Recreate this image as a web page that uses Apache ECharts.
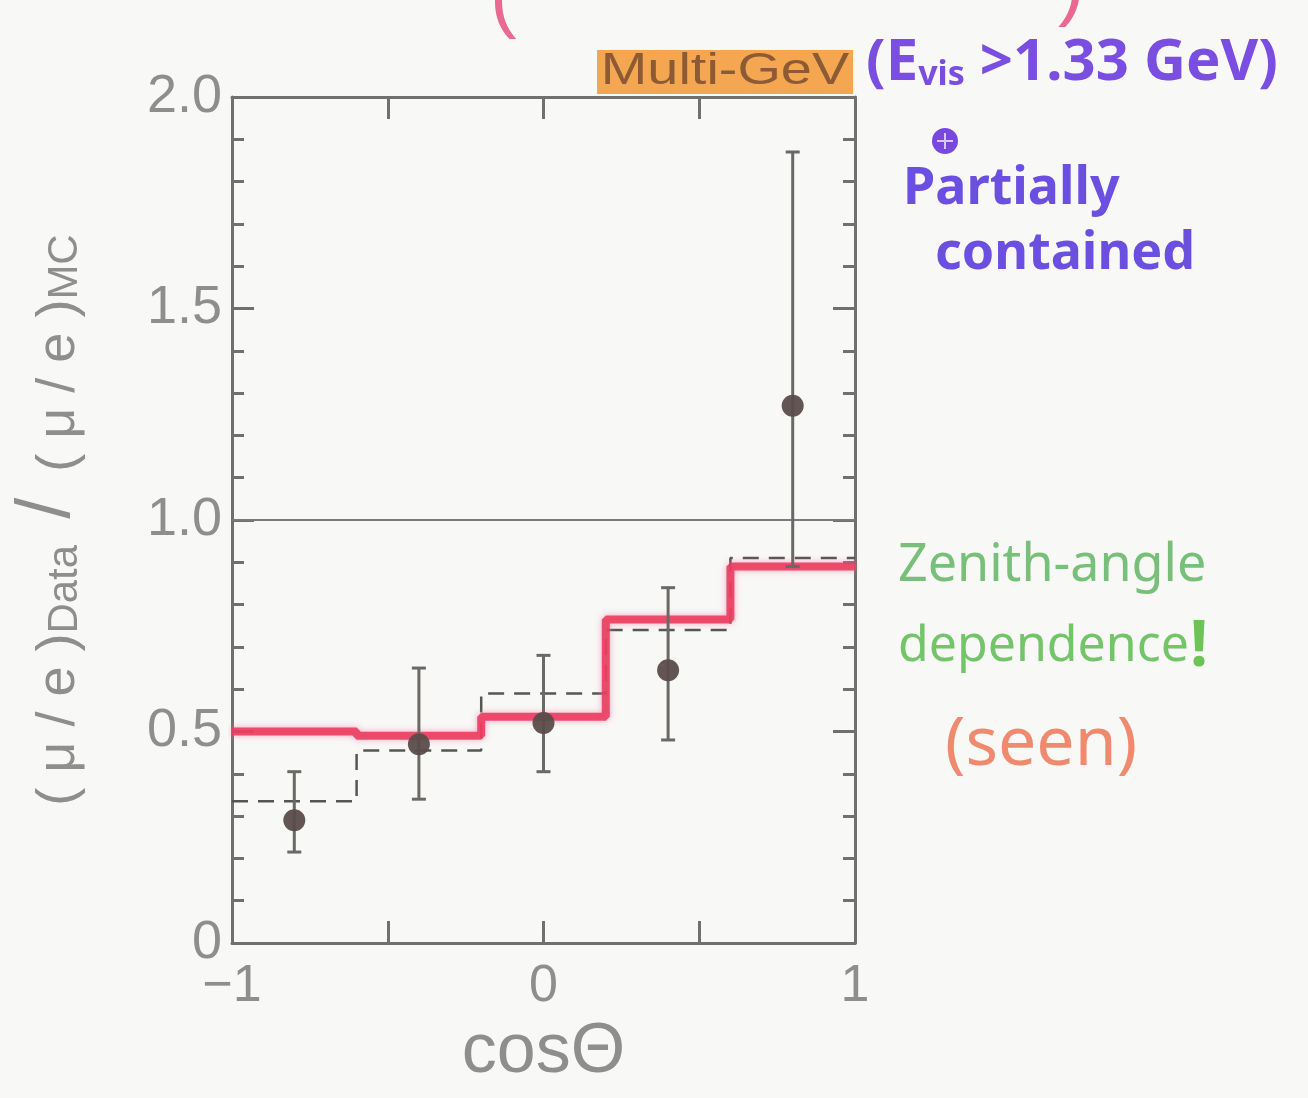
<!DOCTYPE html>
<html>
<head>
<meta charset="utf-8">
<title>Multi-GeV μ/e ratio vs cosΘ</title>
<script src="https://cdn.jsdelivr.net/npm/echarts@6/dist/echarts.min.js"></script>
<style>
  html, body { margin: 0; padding: 0; background: #f8f8f6; }
  #chart { width: 1308px; height: 1098px; }
</style>
</head>
<body>
<div id="chart"></div>
<script>
// Zenith-angle bins in cosΘ
const binEdges = [-1, -0.6, -0.2, 0.2, 0.6, 1];
const binCenters = [-0.8, -0.4, 0, 0.4, 0.8];

// Measured (μ/e)Data/(μ/e)MC with error range
const dataRatio = [0.29, 0.47, 0.52, 0.645, 1.27];
const errLow = [0.215, 0.34, 0.405, 0.48, 0.89];
const errHigh = [0.405, 0.65, 0.68, 0.84, 1.87];

// Expectation histograms: solid (red) and dashed
const oscRatio = [0.50, 0.49, 0.535, 0.765, 0.89];
const altRatio = [0.335, 0.455, 0.59, 0.74, 0.91];

// Reference level and axis tick labels
const unityLevel = 1.0;
const xTickLabels = { '-1': '−1', '0': '0', '1': '1' };
const yTickLabels = { '0': '0', '0.5': '0.5', '1': '1.0', '1.5': '1.5', '2': '2.0' };

// Turn per-bin values into step points (left edges + final right edge)
function stepPoints(values) {
  const pts = values.map((v, i) => [binEdges[i], v]);
  pts.push([binEdges[binEdges.length - 1], values[values.length - 1]]);
  return pts;
}

const axisGray = '#707070';
const labelGray = '#8e8e8e';
const labelFont = 'Liberation Sans, Helvetica, Arial, sans-serif';
const handFont = 'Noto Sans, sans-serif';

const chart = echarts.init(document.getElementById('chart'));

const baseX = {
  type: 'value', min: -1, max: 1, interval: 0.5,
  axisLine: { show: true, onZero: false, lineStyle: { color: axisGray, width: 3 } },
  axisTick: { show: true, inside: true, length: 22, lineStyle: { color: axisGray, width: 3 } },
  splitLine: { show: false }
};
const baseY = {
  type: 'value', min: 0, max: 2, interval: 0.5,
  axisLine: { show: true, onZero: false, lineStyle: { color: axisGray, width: 3 } },
  axisTick: { show: true, inside: true, length: 22, lineStyle: { color: axisGray, width: 3 } },
  minorTick: { show: true, splitNumber: 5, length: 12, lineStyle: { color: axisGray, width: 3 } },
  splitLine: { show: false }
};

const option = {
  backgroundColor: '#f8f8f6',
  animation: false,
  grid: { left: 232, top: 97, right: 453, bottom: 155, containLabel: false, outerBoundsMode: 'none' },
  xAxis: [
    Object.assign({}, baseX, {
      position: 'bottom',
      name: 'cosΘ',
      nameLocation: 'middle',
      nameGap: 66,
      nameTextStyle: { fontSize: 70, color: labelGray, fontFamily: labelFont, fontWeight: 'normal' },
      axisLabel: {
        show: true, margin: 18, fontSize: 52, color: labelGray, fontFamily: labelFont,
        formatter: v => (xTickLabels[String(v)] !== undefined ? xTickLabels[String(v)] : '')
      }
    }),
    Object.assign({}, baseX, { position: 'top', axisLabel: { show: false } })
  ],
  yAxis: [
    Object.assign({}, baseY, {
      position: 'left',
      name: '{p|( μ / e )}{s|Data}{q|/}{p|( μ / e )}{s|MC}',
      nameLocation: 'middle',
      nameRotate: 90,
      nameGap: 146,
      nameTextStyle: {
        color: labelGray,
        rich: {
          p: { fontSize: 54, color: labelGray, fontFamily: labelFont, verticalAlign: 'bottom' },
          q: { fontSize: 76, color: labelGray, fontFamily: labelFont, verticalAlign: 'bottom', padding: [0, 26, 0, 26] },
          s: { fontSize: 42, color: labelGray, fontFamily: labelFont, verticalAlign: 'bottom' }
        }
      },
      axisLabel: {
        show: true, margin: 10, fontSize: 54, color: labelGray, fontFamily: labelFont,
        formatter: v => (yTickLabels[String(v)] !== undefined ? yTickLabels[String(v)] : '')
      }
    }),
    Object.assign({}, baseY, { position: 'right', axisLabel: { show: false } })
  ],
  series: [
    {
      // unity reference line
      type: 'line',
      data: [[-1, unityLevel], [1, unityLevel]],
      symbol: 'none',
      lineStyle: { color: '#7a7a7a', width: 2 },
      z: 2
    },
    {
      // dashed expectation histogram
      type: 'line',
      step: 'end',
      data: stepPoints(altRatio),
      symbol: 'none',
      lineStyle: { color: '#555555', width: 2.5, type: [16, 10] },
      z: 3
    },
    {
      // solid red expectation histogram
      type: 'line',
      step: 'end',
      data: stepPoints(oscRatio),
      symbol: 'none',
      lineStyle: {
        color: 'rgba(234,58,92,0.88)', width: 8,
        shadowColor: 'rgba(245,120,170,0.75)', shadowBlur: 6
      },
      z: 4
    },
    {
      // error bars
      type: 'custom',
      data: binCenters.map((x, i) => [x, errLow[i], errHigh[i]]),
      renderItem: function (params, api) {
        const lo = api.coord([api.value(0), api.value(1)]);
        const hi = api.coord([api.value(0), api.value(2)]);
        const cap = 7;
        const style = { stroke: '#6b6966', lineWidth: 3 };
        return {
          type: 'group',
          children: [
            { type: 'line', shape: { x1: lo[0], y1: lo[1], x2: hi[0], y2: hi[1] }, style: style },
            { type: 'line', shape: { x1: lo[0] - cap, y1: lo[1], x2: lo[0] + cap, y2: lo[1] }, style: style },
            { type: 'line', shape: { x1: hi[0] - cap, y1: hi[1], x2: hi[0] + cap, y2: hi[1] }, style: style }
          ]
        };
      },
      z: 5
    },
    {
      // measured points
      type: 'scatter',
      data: binCenters.map((x, i) => [x, dataRatio[i]]),
      symbol: 'circle',
      symbolSize: 22,
      itemStyle: { color: '#5a4c4a', opacity: 0.95 },
      z: 6
    }
  ],
  graphic: [
    // pink note running off the top edge
    { type: 'text', left: 490, top: -40, style: { text: '(', fontSize: 80, fill: '#ea6894', fontFamily: labelFont } },
    { type: 'text', left: 1058, top: -52, style: { text: ')', fontSize: 80, fill: '#ea6894', fontFamily: labelFont } },
    {
      type: 'text', x: 597, y: 50, scaleX: 1.27,
      style: {
        text: 'Multi-GeV', fontSize: 44, fill: '#8c5a34', fontFamily: labelFont,
        backgroundColor: '#f5a651', padding: [0, 3, 0, 3]
      }
    },
    {
      type: 'text', left: 866, top: 34,
      style: {
        text: '{a|(E}{b|vis}{a| >1.33 GeV)}',
        rich: {
          a: { fontSize: 58, fill: '#7a4ee0', fontFamily: handFont, fontWeight: 'bold' },
          b: { fontSize: 34, fill: '#7a4ee0', fontFamily: handFont, fontWeight: 'bold', verticalAlign: 'bottom', padding: [22, 0, 0, 0] }
        }
      }
    },
    { type: 'circle', shape: { cx: 945, cy: 141, r: 13 }, style: { fill: '#7a48de' } },
    { type: 'line', shape: { x1: 937, y1: 141, x2: 953, y2: 141 }, style: { stroke: '#d8c8ff', lineWidth: 2 } },
    { type: 'line', shape: { x1: 945, y1: 133, x2: 945, y2: 149 }, style: { stroke: '#d8c8ff', lineWidth: 2 } },
    { type: 'text', left: 903, top: 163, style: { text: 'Partially', fontSize: 52, fill: '#6a4fe0', fontFamily: handFont, fontWeight: 'bold' } },
    { type: 'text', left: 935, top: 228, style: { text: 'contained', fontSize: 52, fill: '#6a4fe0', fontFamily: handFont, fontWeight: 'bold' } },
    { type: 'text', left: 898, top: 540, style: { text: 'Zenith-angle', fontSize: 52, fill: '#78c07a', fontFamily: handFont } },
    { type: 'text', left: 898, top: 622, style: { text: 'dependence', fontSize: 50, fill: '#74c46a', fontFamily: handFont } },
    { type: 'text', left: 1190, top: 616, style: { text: '!', fontSize: 64, fill: '#6cc454', fontFamily: handFont, fontWeight: 'bold' } },
    { type: 'text', left: 945, top: 712, style: { text: '(seen)', fontSize: 68, fill: '#f08a6e', fontFamily: handFont } }
  ]
};

chart.setOption(option);
</script>
</body>
</html>
